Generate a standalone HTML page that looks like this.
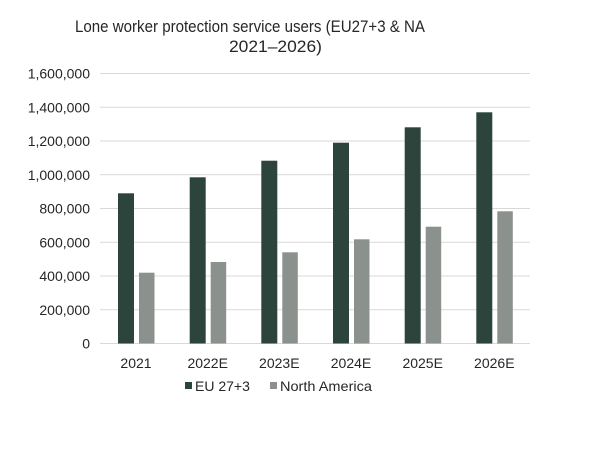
<!DOCTYPE html>
<html><head><meta charset="utf-8"><style>body{margin:0;background:#fff}svg{display:block}text{font-family:"Liberation Sans",sans-serif;fill:#262626}</style></head>
<body><svg width="600" height="459" xmlns="http://www.w3.org/2000/svg">
<text x="75" y="32" font-size="17" textLength="350" lengthAdjust="spacingAndGlyphs">Lone worker protection service users (EU27+3 &amp; NA</text>
<text x="229" y="52" font-size="17" textLength="93" lengthAdjust="spacingAndGlyphs">2021–2026)</text>
<g stroke="#d9d9d9" stroke-width="1">
<line x1="100" x2="530" y1="73.5" y2="73.5"/><line x1="100" x2="530" y1="107.25" y2="107.25"/><line x1="100" x2="530" y1="141" y2="141"/><line x1="100" x2="530" y1="174.75" y2="174.75"/><line x1="100" x2="530" y1="208.5" y2="208.5"/><line x1="100" x2="530" y1="242.25" y2="242.25"/><line x1="100" x2="530" y1="276" y2="276"/><line x1="100" x2="530" y1="309.75" y2="309.75"/><line x1="100" x2="530" y1="343.5" y2="343.5"/>
</g>
<g font-size="14" text-anchor="end">
<text x="90" y="78.5">1,600,000</text><text x="90" y="112.25">1,400,000</text><text x="90" y="146">1,200,000</text><text x="90" y="179.75">1,000,000</text><text x="90" y="213.5">800,000</text><text x="90" y="247.25">600,000</text><text x="90" y="281">400,000</text><text x="90" y="314.75">200,000</text><text x="90" y="348.5">0</text>
</g>
<g fill="#2d443c">
<rect x="118" y="193.3" width="16" height="150.2"/><rect x="189.7" y="177.3" width="16" height="166.2"/><rect x="261.3" y="160.7" width="16" height="182.8"/><rect x="333" y="142.7" width="16" height="200.8"/><rect x="404.7" y="127.3" width="16" height="216.2"/><rect x="476.3" y="112.3" width="16" height="231.2"/>
</g>
<g fill="#8b918d">
<rect x="139" y="272.7" width="15.5" height="70.8"/><rect x="210.7" y="262" width="15.5" height="81.5"/><rect x="282.3" y="252.3" width="15.5" height="91.2"/><rect x="354" y="239.3" width="15.5" height="104.2"/><rect x="425.7" y="226.7" width="15.5" height="116.8"/><rect x="497.3" y="211.3" width="15.5" height="132.2"/>
</g>
<g font-size="14" text-anchor="middle">
<text x="136" y="368">2021</text><text x="207.7" y="368">2022E</text><text x="279.3" y="368">2023E</text><text x="351" y="368">2024E</text><text x="422.7" y="368">2025E</text><text x="494.3" y="368">2026E</text>
</g>
<rect x="185" y="382" width="7" height="7" fill="#2d443c"/>
<text x="195" y="391" font-size="14">EU 27+3</text>
<rect x="270" y="382" width="7" height="7" fill="#8b918d"/>
<text x="280" y="391" font-size="14" textLength="92" lengthAdjust="spacingAndGlyphs">North America</text>
</svg></body></html>
